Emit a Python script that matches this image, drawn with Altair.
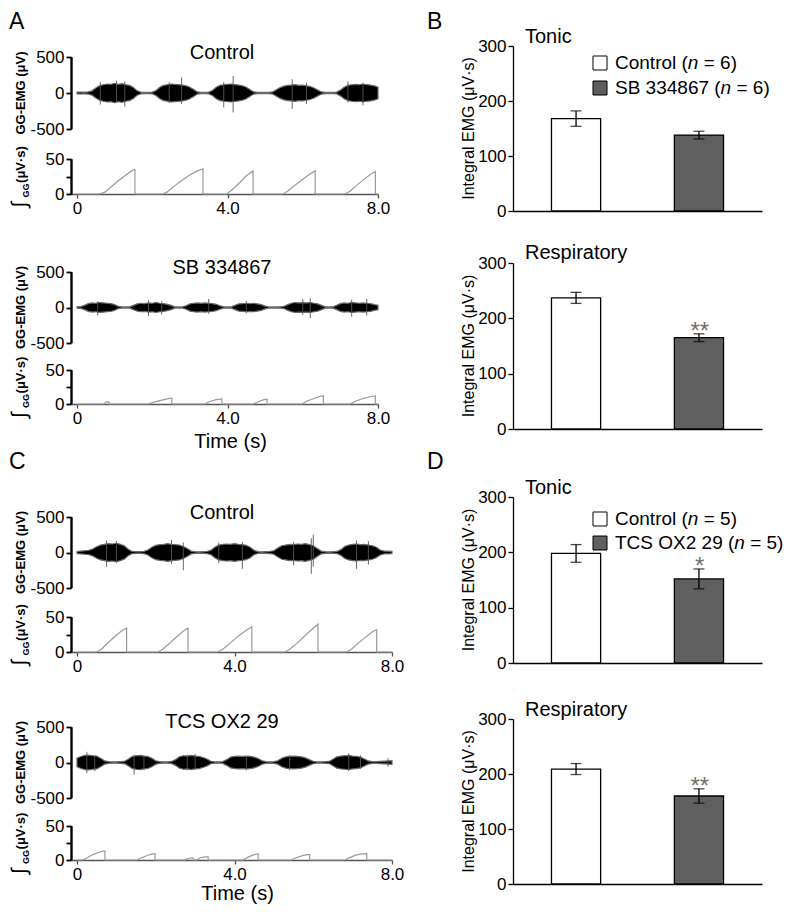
import altair as alt
import pandas as pd

FONT = "Liberation Sans"
W, H = 784, 896
AXIS_X = 63  # left axis position of the trace panels (chart px)

# ---------------- EMG envelopes (half-amplitude of the dense trace, uV), sampled every 0.1 s from 0 to 8 s
emg_a_control = [12, 14, 12, 15, 30, 70, 100, 115, 125, 120,
                 135, 120, 130, 115, 105, 75, 30, 12, 8, 10,
                 12, 35, 80, 105, 115, 125, 120, 115, 110, 100,
                 80, 50, 15, 8, 8, 12, 35, 80, 105, 115,
                 120, 125, 115, 110, 100, 80, 45, 15, 10, 8,
                 10, 10, 15, 45, 75, 95, 105, 110, 115, 105,
                 110, 100, 90, 70, 40, 15, 10, 8, 10, 12,
                 40, 80, 105, 115, 120, 115, 125, 115, 110, 100,
                 80]
emg_a_sb = [10, 12, 30, 55, 65, 60, 70, 65, 60, 55,
            40, 15, 8, 8, 10, 30, 50, 60, 55, 65,
            60, 70, 60, 55, 45, 30, 10, 8, 8, 25,
            50, 60, 65, 60, 65, 60, 55, 45, 25, 10,
            8, 10, 30, 50, 55, 60, 55, 60, 50, 40,
            20, 8, 8, 8, 10, 15, 40, 60, 70, 65,
            70, 65, 70, 60, 50, 30, 10, 8, 10, 30,
            55, 65, 60, 70, 65, 60, 65, 60, 55, 40,
            30]
emg_c_control = [15, 20, 25, 30, 50, 80, 105, 115, 125, 120,
                 130, 115, 95, 45, 15, 12, 12, 15, 35, 75,
                 100, 110, 115, 125, 115, 110, 105, 85, 55, 20,
                 12, 10, 12, 15, 30, 75, 105, 115, 120, 115,
                 125, 115, 110, 100, 75, 30, 12, 10, 12, 15,
                 25, 65, 95, 105, 115, 110, 120, 115, 125, 110,
                 95, 55, 20, 12, 10, 12, 15, 40, 85, 105,
                 115, 120, 110, 115, 105, 95, 75, 35, 20, 18,
                 15]
emg_c_tcs = [60, 85, 100, 105, 95, 90, 60, 25, 12, 10,
             10, 12, 15, 45, 85, 95, 100, 90, 85, 60,
             25, 12, 10, 10, 15, 40, 80, 95, 90, 100,
             90, 85, 70, 50, 18, 10, 10, 12, 40, 75,
             85, 90, 85, 90, 85, 75, 55, 25, 12, 10,
             12, 25, 60, 80, 85, 90, 85, 80, 65, 40,
             18, 10, 10, 12, 15, 45, 80, 90, 95, 100,
             90, 85, 75, 50, 22, 12, 12, 15, 18, 22,
             25]
EMG_STEP = 0.1

# ---------------- prominent single spikes (time s, min uV, max uV)
spk_a_control_t = [0.62, 1.05, 1.27, 2.45, 2.78, 3.9, 4.15, 5.72, 6.1, 7.2, 7.6]
spk_a_control_lo = [-160, -120, -190, -140, -150, -200, -270, -220, -150, -130, -170]
spk_a_control_hi = [150, 170, 160, 150, 215, 150, 235, 190, 140, 160, 140]
spk_a_sb_t = [0.55, 1.9, 2.25, 3.5, 4.5, 6.0, 6.2, 7.3, 7.7]
spk_a_sb_lo = [-110, -120, -100, -90, -80, -100, -150, -130, -110]
spk_a_sb_hi = [90, 100, 90, 120, 90, 120, 130, 110, 120]
spk_c_control_t = [0.75, 1.0, 2.4, 2.7, 3.6, 4.2, 5.5, 5.95, 6.0, 7.1, 7.4]
spk_c_control_lo = [-200, -150, -160, -250, -150, -230, -180, -300, -200, -230, -170]
spk_c_control_hi = [170, 160, 180, 140, 140, 150, 150, 200, 250, 170, 160]
spk_c_tcs_t = [0.25, 0.45, 1.45, 1.7, 2.8, 3.0, 4.3, 5.4, 6.9, 7.2, 7.9]
spk_c_tcs_lo = [-150, -120, -170, -110, -110, -100, -110, -110, -120, -90, -60]
spk_c_tcs_hi = [150, 100, 110, 100, 110, 120, 90, 100, 130, 100, 60]

# ---------------- integrated GG-EMG (time s, uV*s)
int_a_control_t = [0, 0.61, 0.75, 0.9, 1.1, 1.3, 1.45, 1.54, 1.54, 2.29, 2.4, 2.6, 2.8, 3.0, 3.2, 3.35, 3.35,
                   3.98, 4.1, 4.3, 4.5, 4.68, 4.68, 5.48, 5.6, 5.8, 6.0, 6.2, 6.33, 6.33,
                   7.13, 7.25, 7.45, 7.65, 7.85, 7.93, 7.93, 8.0]
int_a_control_v = [0, 0, 3, 10, 19, 27, 33, 35, 0, 0, 3, 12, 20, 27, 33, 36, 0,
                   0, 5, 15, 26, 33, 0, 0, 4, 13, 21, 29, 33, 0,
                   0, 4, 13, 22, 30, 32, 0, 0]
int_a_sb_t = [0, 0.72, 0.78, 0.85, 0.85, 1.9, 2.0, 2.2, 2.4, 2.52, 2.52, 3.4, 3.5, 3.7, 3.85, 3.85,
              4.69, 4.8, 4.95, 5.05, 5.05, 5.98, 6.1, 6.3, 6.45, 6.55, 6.55, 7.26, 7.4, 7.6, 7.8, 7.93, 7.93, 8.0]
int_a_sb_v = [0, 0, 3, 3, 0, 0, 2, 5, 7.5, 8.5, 0, 0, 3, 6.5, 7.5, 0,
              0, 3, 6, 7, 0, 0, 4, 8, 11, 12, 0, 0, 4, 8, 11, 12, 0, 0]
int_c_control_t = [0, 0.5, 0.62, 0.8, 1.0, 1.15, 1.26, 1.26, 2.06, 2.18, 2.4, 2.6, 2.75, 2.82, 2.82,
                   3.58, 3.7, 3.9, 4.1, 4.3, 4.44, 4.44, 5.28, 5.4, 5.6, 5.8, 6.0, 6.12, 6.12,
                   6.85, 6.97, 7.15, 7.35, 7.5, 7.61, 7.61, 8.0]
int_c_control_v = [0, 0, 4, 14, 24, 31, 34, 0, 0, 4, 15, 25, 32, 34, 0,
                   0, 4, 13, 23, 31, 36, 0, 0, 4, 13, 24, 34, 40, 0,
                   0, 4, 13, 22, 29, 32, 0, 0]
int_c_tcs_t = [0, 0.15, 0.25, 0.4, 0.55, 0.65, 0.71, 0.71, 1.52, 1.62, 1.8, 1.92, 1.98, 1.98,
               2.74, 2.82, 2.92, 2.95, 2.95, 3.05, 3.12, 3.25, 3.33, 3.33, 4.22, 4.32, 4.48, 4.6, 4.6,
               5.45, 5.55, 5.72, 5.85, 5.91, 5.91, 6.8, 6.92, 7.1, 7.25, 7.36, 7.36, 8.0]
int_c_tcs_v = [0, 0, 3, 8, 11, 13, 13, 0, 0, 3, 7, 9, 9.3, 0,
               0, 2, 3.3, 3.3, 0, 0, 3, 4.5, 4.7, 0, 0, 3.5, 7.5, 9.3, 0,
               0, 3, 6.5, 8, 8, 0, 0, 3.5, 7.5, 9, 9.3, 0, 0]

# ---------------- bar data (mean +/- SEM, uV*s)
groups_b = ["Control", "SB 334867"]
b_tonic_mean, b_tonic_sem, b_tonic_sig = [168, 138], [14, 7], ["", ""]
b_resp_mean, b_resp_sem, b_resp_sig = [237, 165], [10, 7], ["", "**"]
n_b = 6
groups_d = ["Control", "TCS OX2 29"]
d_tonic_mean, d_tonic_sem, d_tonic_sig = [198, 152], [16, 18], ["", "*"]
d_resp_mean, d_resp_sem, d_resp_sig = [209, 160], [10, 13], ["", "**"]
n_d = 5

BAR_COLORS = ["white", "#5f5f5f"]
LEG_FS = 19

# Arial/Liberation Sans advance widths (per 1000 em) for legend layout
CW = {"C": 722, "o": 556, "n": 556, "t": 278, "r": 333, "l": 222, " ": 278, "(": 333, ")": 333,
      "S": 667, "B": 667, "T": 611, "O": 778, "X": 667, "=": 584}
for d in "0123456789":
    CW[d] = 556


def tw(s, size):
    return sum(CW.get(c, 556) for c in s) / 1000 * size


layers = []


def txt(s, x, y, size, weight="normal", align="center", baseline="middle", angle=0,
        color="black", style="normal"):
    return alt.Chart(pd.DataFrame({"s": [s]})).mark_text(
        font=FONT, fontSize=size, fontWeight=weight, align=align, baseline=baseline,
        angle=angle, color=color, fontStyle=style
    ).encode(text="s:N", x=alt.value(x), y=alt.value(y))


def vline(x, y_top, y_bot, width=2):
    return alt.Chart(pd.DataFrame({"k": [0]})).mark_rule(
        color="#000000", strokeWidth=width).encode(
        x=alt.value(x), y=alt.value(y_top), y2=alt.value(y_bot))


def trace_block(amps, st, slo, shi, it, iv, x0, x8, emg_top, emg_bot, int_top, int_bot,
                title, title_y, time_title_y=None):
    pps = (x8 - x0) / 8.0
    xs = alt.Scale(domain=[-(x0 - AXIS_X) / pps, 8.0], range=[AXIS_X, x8], nice=False, zero=False)
    ys = alt.Scale(domain=[-500, 500], range=[emg_bot, emg_top], nice=False, zero=False)
    yi = alt.Scale(domain=[0, 50], range=[int_bot, int_top], nice=False, zero=False)
    edf = pd.DataFrame({"t": [round(i * EMG_STEP, 2) for i in range(len(amps))],
                        "lo": [-a for a in amps], "hi": amps})
    yaxis_common = dict(orient="left", offset=-AXIS_X, title=None, domain=True, ticks=True,
                        domainWidth=1.8, tickWidth=1.8, domainColor="#000000",
                        tickColor="#000000", tickSize=5, zindex=1)
    out = []
    out.append(alt.Chart(edf).mark_area(color="black", opacity=1, interpolate="linear",
                                        stroke="#6a6a6a", strokeWidth=1.2).encode(
        x=alt.X("t:Q", scale=xs, axis=None),
        y=alt.Y("lo:Q", scale=ys, axis=alt.Axis(
            values=[-500, 0, 500],
            labelExpr="datum.value < 0 ? '-' + format(-datum.value, 'd') : format(datum.value, 'd')",
            **yaxis_common)),
        y2="hi:Q"))
    sdf = pd.DataFrame({"t": st, "lo": slo, "hi": shi})
    out.append(alt.Chart(sdf).mark_rule(color="#555555", strokeWidth=0.9).encode(
        x=alt.X("t:Q", scale=xs, axis=None),
        y=alt.Y("lo:Q", scale=ys, axis=None), y2="hi:Q"))
    idf = pd.DataFrame({"i": list(range(len(it))), "t": it, "v": iv})
    out.append(alt.Chart(idf).mark_line(color="#9a9a9a", strokeWidth=1.2).encode(
        x=alt.X("t:Q", scale=xs, axis=alt.Axis(
            orient="bottom", offset=int_bot - H, values=[0, 4, 8], title=None,
            domainColor="#555555", tickColor="#555555", tickSize=4,
            labelExpr="datum.value == 0 ? '0' : format(datum.value, '.1f')")),
        y=alt.Y("v:Q", scale=yi, axis=alt.Axis(
            values=[0, 25, 50],
            labelExpr="datum.value == 25 ? '' : format(datum.value, 'd')",
            **yaxis_common)),
        order="i:Q"))
    # axis spines drawn again on top so that they stay visible
    out.append(vline(AXIS_X + 0.5, emg_top, emg_bot))
    out.append(vline(AXIS_X + 0.5, int_top, int_bot))
    # rotated axis titles
    out.append(txt("GG-EMG (μV)", 13, (emg_top + emg_bot) / 2, 13, weight="bold", angle=270))
    c = (int_top + int_bot) / 2
    out.append(txt("(μV·s)", 13, c - 12, 13, weight="bold", angle=270))
    out.append(txt("GG", 18, c + 14, 9, weight="bold", angle=270))
    out.append(txt("∫", 12, c + 28, 21, angle=270))
    out.append(txt(title, 214, title_y, 20))
    if time_title_y is not None:
        out.append(txt("Time (s)", (AXIS_X + x8) / 2 + 6, time_title_y, 20, baseline="bottom"))
    return out


def bar_block(groups, means, sems, sigs, y0, y300, title, title_y, legend_y=None, n=None):
    xs = alt.Scale(domain=groups, range=[505, 754], paddingInner=0.6, paddingOuter=0.313)
    ys = alt.Scale(domain=[0, 300], range=[y0, y300], nice=False, zero=True)
    cs = alt.Scale(domain=groups, range=BAR_COLORS)
    df = pd.DataFrame({"g": groups, "m": means,
                       "lo": [m - s for m, s in zip(means, sems)],
                       "hi": [m + s for m, s in zip(means, sems)], "sig": sigs})
    caps = pd.DataFrame({"g": groups + groups,
                         "v": list(df["lo"]) + list(df["hi"])})
    out = []
    out.append(alt.Chart(df).mark_bar(stroke="black", strokeWidth=1.3).encode(
        x=alt.X("g:N", scale=xs, axis=alt.Axis(
            orient="bottom", offset=y0 - H, labels=False, ticks=False, title=None)),
        y=alt.Y("m:Q", scale=ys, axis=alt.Axis(
            orient="left", offset=-505, values=[0, 100, 200, 300], title=None)),
        fill=alt.Fill("g:N", scale=cs, legend=None)))
    out.append(alt.Chart(df).mark_rule(color="black", strokeWidth=1.3).encode(
        x=alt.X("g:N", scale=xs, axis=None),
        y=alt.Y("lo:Q", scale=ys, axis=None), y2="hi:Q"))
    out.append(alt.Chart(caps).mark_tick(color="black", thickness=1.3, size=11).encode(
        x=alt.X("g:N", scale=xs, axis=None),
        y=alt.Y("v:Q", scale=ys, axis=None)))
    out.append(alt.Chart(df).mark_text(font=FONT, fontSize=24, color="#707070",
                                       baseline="alphabetic", dy=5).encode(
        x=alt.X("g:N", scale=xs, axis=None),
        y=alt.Y("hi:Q", scale=ys, axis=None), text="sig:N"))
    out.append(txt("Integral EMG (μV·s)", 461, (y0 + y300) / 2, 16, angle=270))
    out.append(txt(title, 517, title_y, 20, align="left"))
    if legend_y is not None:
        for k, g in enumerate(groups):
            yy = legend_y[k]
            out.append(alt.Chart(pd.DataFrame({"g": [g]})).mark_square(
                size=196, stroke="black", strokeWidth=1, opacity=1, filled=True).encode(
                x=alt.value(592), y=alt.value(yy), fill=alt.value(BAR_COLORS[k])))
            x0 = 607
            p1 = g + " ("
            out.append(txt(p1, x0, yy, LEG_FS, align="left"))
            x1 = x0 + tw(p1, LEG_FS)
            out.append(txt("n", x1, yy, LEG_FS, align="left", style="italic"))
            x2 = x1 + tw("n ", LEG_FS)
            out.append(txt("= %d)" % n, x2, yy, LEG_FS, align="left"))
    return out


# ---------- left column: traces
layers += trace_block(emg_a_control, spk_a_control_t, spk_a_control_lo, spk_a_control_hi,
                      int_a_control_t, int_a_control_v, 69, 370, 49, 121, 151, 186,
                      "Control", 45)
layers += trace_block(emg_a_sb, spk_a_sb_t, spk_a_sb_lo, spk_a_sb_hi,
                      int_a_sb_t, int_a_sb_v, 69, 370, 264, 335, 362, 396,
                      "SB 334867", 260, time_title_y=444)
layers += trace_block(emg_c_control, spk_c_control_t, spk_c_control_lo, spk_c_control_hi,
                      int_c_control_t, int_c_control_v, 69, 384, 509, 580, 609, 644,
                      "Control", 505)
layers += trace_block(emg_c_tcs, spk_c_tcs_t, spk_c_tcs_lo, spk_c_tcs_hi,
                      int_c_tcs_t, int_c_tcs_v, 69, 384, 719, 790, 818, 852,
                      "TCS OX2 29", 714, time_title_y=896)

# ---------- right column: bars
layers += bar_block(groups_b, b_tonic_mean, b_tonic_sem, b_tonic_sig, 203, 38, "Tonic", 29,
                    legend_y=[55, 80], n=n_b)
layers += bar_block(groups_b, b_resp_mean, b_resp_sem, b_resp_sig, 421, 255, "Respiratory", 245)
layers += bar_block(groups_d, d_tonic_mean, d_tonic_sem, d_tonic_sig, 655, 489, "Tonic", 480,
                    legend_y=[511, 535], n=n_d)
layers += bar_block(groups_d, d_resp_mean, d_resp_sem, d_resp_sig, 876, 711, "Respiratory", 702)

# ---------- panel letters
layers.append(txt("A", 1, 3, 23, align="left", baseline="top"))
layers.append(txt("B", 419, 3, 23, align="left", baseline="top"))
layers.append(txt("C", 1, 454, 23, align="left"))
layers.append(txt("D", 419, 454, 23, align="left"))

chart = alt.layer(*layers).resolve_scale(
    x="independent", y="independent", fill="independent"
).properties(
    width=W, height=H, padding=0, autosize=alt.AutoSizeParams(type="none")
).configure_view(stroke=None).configure_axis(
    labelFont=FONT, labelFontSize=17, labelColor="black", domainColor="black",
    tickColor="black", domainWidth=1.3, tickWidth=1.3, tickSize=5, labelPadding=2,
    grid=False, labelFlush=False, labelOverlap=False
)

chart.save("out.html", embed_options={"renderer": "svg", "actions": False})
